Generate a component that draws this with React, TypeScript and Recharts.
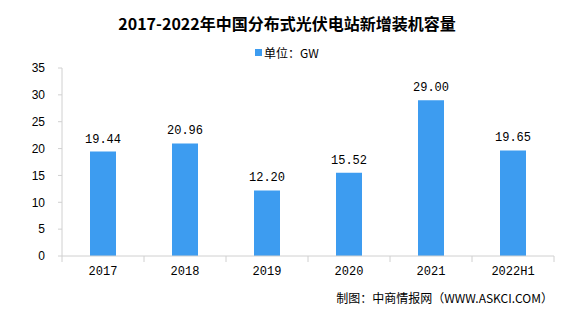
import React from 'react';
import { BarChart, Bar, XAxis, YAxis, LabelList } from 'recharts';

const years = ['2017', '2018', '2019', '2020', '2021', '2022H1'];
const capacity = [19.44, 20.96, 12.2, 15.52, 29.0, 19.65];
const yTicks = [0, 5, 10, 15, 20, 25, 30, 35];

const data = years.map((name, i) => ({ name, value: capacity[i] }));

const W = 574;
const H = 313;
const margin = { top: 68, right: 20, left: 0, bottom: 27 };
const yAxisWidth = 62;
const band = (W - margin.left - margin.right - yAxisWidth) / years.length;

const monoFont = '"Liberation Mono", "Noto Sans CJK SC", monospace';

const XTick = (props: any) => {
  const { x, y, payload, index } = props;
  const left = x - band / 2;
  const right = x + band / 2;
  return (
    <g>
      <line x1={left} y1={y - 8} x2={left} y2={y - 2} stroke="#d0d0d0" />
      {index === years.length - 1 && (
        <line x1={right} y1={y - 8} x2={right} y2={y - 2} stroke="#d0d0d0" />
      )}
      <text x={x} y={y + 11} textAnchor="middle" fontSize={12} fontFamily={monoFont} fill="#000">
        {payload.value}
      </text>
    </g>
  );
};

export default function App() {
  return (
    <div style={{ position: 'relative', width: W, height: H, background: '#fff' }}>
      <style>{'body{margin:0}'}</style>
      <div
        style={{
          position: 'absolute', top: 11, left: 0, width: W, textAlign: 'center',
          fontSize: 16, fontWeight: 'bold', fontFamily: '"Noto Sans CJK SC", sans-serif', color: '#000',
        }}
      >
        2017-2022年中国分布式光伏电站新增装机容量
      </div>
      <div
        style={{
          position: 'absolute', top: 44, left: 0, width: W, display: 'flex', justifyContent: 'center',
          alignItems: 'center', fontSize: 12, fontFamily: '"Noto Sans CJK SC", sans-serif', color: '#000',
        }}
      >
        <span style={{ display: 'inline-block', width: 7, height: 7, background: '#3d9cf0', marginRight: 2 }} />
        单位：GW
      </div>
      <BarChart width={W} height={H} data={data} margin={margin}>
        <YAxis
          width={yAxisWidth}
          domain={[0, 35]}
          ticks={yTicks}
          interval={0}
          axisLine={{ stroke: '#d0d0d0' }}
          tickLine={{ stroke: '#d0d0d0' }}
          tickSize={4}
          tickMargin={13}
          tick={{ fontSize: 12, fill: '#000', fontFamily: '"Liberation Sans", Arial, sans-serif' }}
        />
        <XAxis
          dataKey="name"
          axisLine={{ stroke: '#d0d0d0' }}
          tickLine={false}
          interval={0}
          tick={<XTick />}
        />
        <Bar dataKey="value" fill="#3d9cf0" barSize={26} isAnimationActive={false}>
          <LabelList
            dataKey="value"
            position="top"
            offset={9}
            formatter={(v: any) => Number(v).toFixed(2)}
            style={{ fontSize: 12, fill: '#000', fontFamily: monoFont }}
          />
        </Bar>
      </BarChart>
      <div
        style={{
          position: 'absolute', top: 289, right: 21, fontSize: 12,
          fontFamily: '"Noto Sans CJK SC", sans-serif', color: '#000',
        }}
      >
        制图：中商情报网（WWW.ASKCI.COM）
      </div>
    </div>
  );
}
